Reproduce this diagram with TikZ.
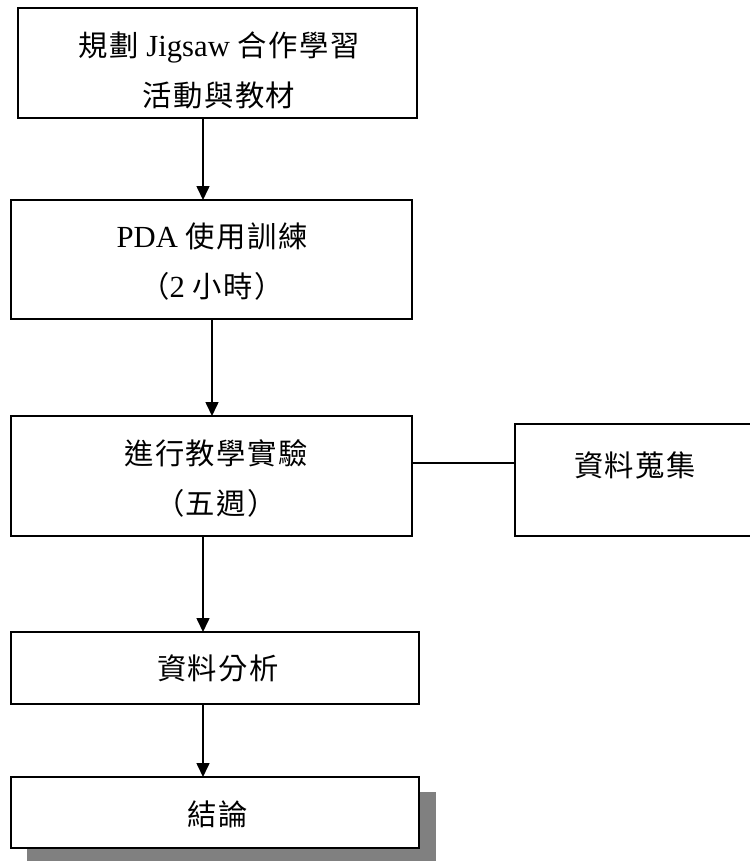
\documentclass[tikz,border=0pt]{standalone}
\usepackage{fontspec}
\setmainfont{Liberation Serif}
\newfontfamily\cjk[LetterSpace=5]{Noto Sans CJK TC}
\newcommand\zh[1]{{\fontsize{22}{37.5}\cjk #1}}
\usetikzlibrary{arrows.meta}
\definecolor{shadowgray}{RGB}{128,128,128}
\begin{document}
\begin{tikzpicture}[x=0.75pt,y=-0.75pt,
  box/.style={draw,line width=1.1pt,rectangle,inner sep=0pt,outer sep=0pt,fill=white},
  lbl/.style={align=center,inner sep=0pt,font=\fontsize{23}{37.5}\selectfont},
  arr/.style={line width=1.2pt,-{Triangle[length=10.5pt,width=9.75pt]}},
  link/.style={line width=1.1pt}]
\clip (0,0) rectangle (750,861);
\fill[white] (0,0) rectangle (750,861);
% boxes
\node[box,line width=1.6pt,minimum width=299.25pt,minimum height=82.5pt] (b1) at (217.5,63) {};
\node[box,line width=1.5pt,minimum width=300.75pt,minimum height=89.25pt] (b2) at (211.5,259.5) {};
\node[box,minimum width=300.75pt,minimum height=90pt] (b3) at (211.5,476) {};
\node[box,minimum width=177.75pt,minimum height=84pt] (b4) at (633.5,480) {};
\node[box,minimum width=306pt,minimum height=54pt] (b5) at (215,668) {};
\node[fill=shadowgray,inner sep=0pt,outer sep=0pt,minimum width=306.75pt,minimum height=54pt] (s6) at (231.5,828) {};
\node[box,minimum width=306pt,minimum height=53.25pt] (b6) at (215,812.5) {};
% texts
\node[lbl] (t1) at (219,70) {\zh{規劃} Jigsaw \zh{合作學習}\\\zh{活動與教材}};
\node[lbl] (t2) at (212,262) {PDA \zh{使用訓練}\\\zh{（}2 \zh{小時）}};
\node[lbl] (t3) at (216,478) {\zh{進行教學實驗}\\\zh{（五週）}};
\node[lbl] (t4) at (635,465) {\zh{資料蒐集}};
\node[lbl] (t5) at (218,668) {\zh{資料分析}};
\node[lbl] (t6) at (218,814) {\zh{結論}};
% connectors
\coordinate (xa) at (203,0);
\coordinate (xb) at (212,0);
\coordinate (ya) at (0,463);
\draw[arr] (b1.south -| xa) -- (b2.north -| xa);
\draw[arr] (b2.south -| xb) -- (b3.north -| xb);
\draw[link] (b3.east |- ya) -- (b4.west |- ya);
\draw[arr] (b3.south -| xa) -- (b5.north -| xa);
\draw[arr] (b5.south -| xa) -- (b6.north -| xa);
\end{tikzpicture}
\end{document}
